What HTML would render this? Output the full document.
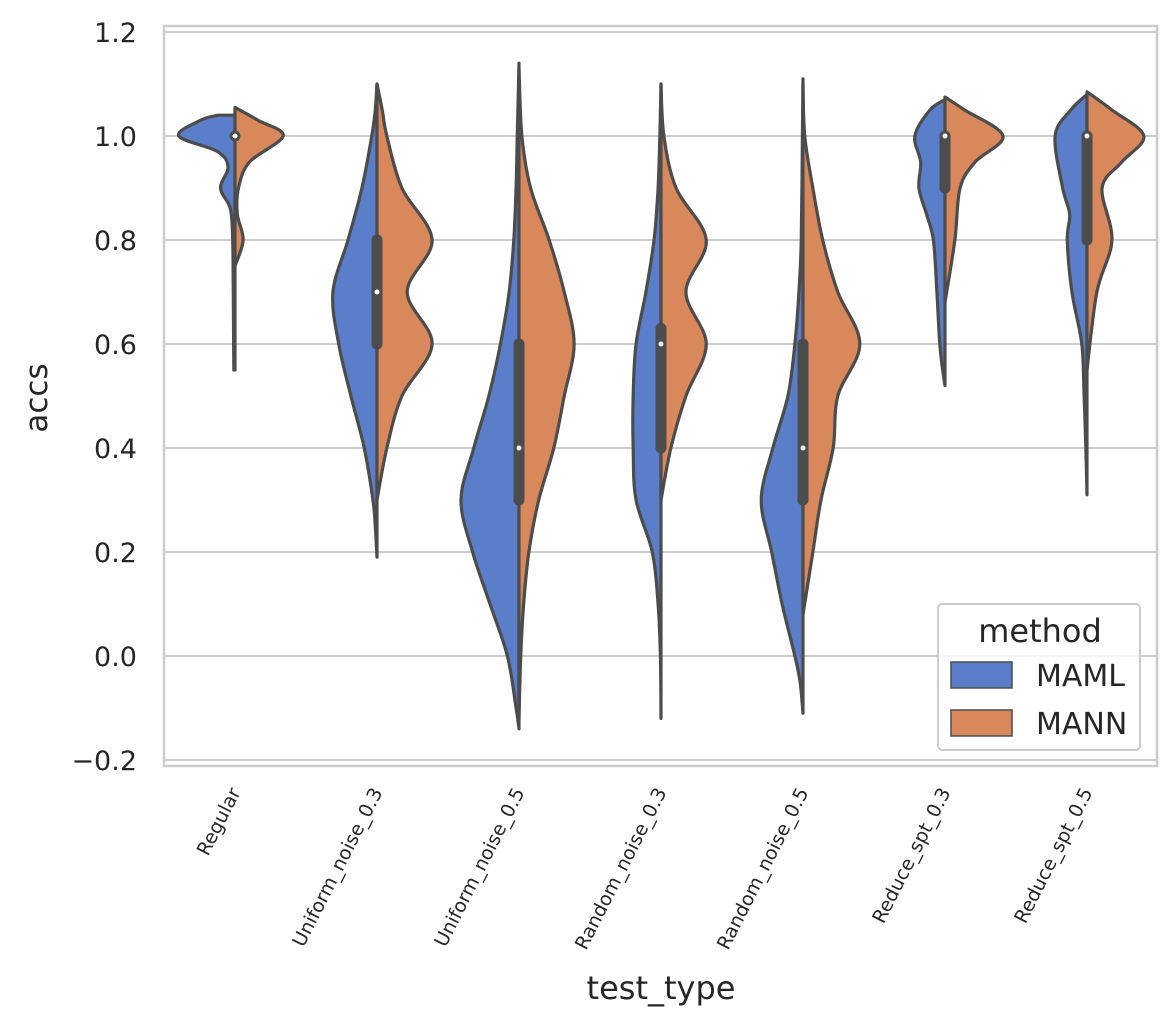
<!DOCTYPE html>
<html><head><meta charset="utf-8"><style>
body{margin:0;background:#fff;}
svg text{font-family:"DejaVu Sans","Liberation Sans",sans-serif;fill:#262626;}
</style></head><body>
<svg id="chart" width="1176" height="1028" xmlns="http://www.w3.org/2000/svg">
<g id="grid"></g>
<g id="violins"></g>
<rect x="164" y="26" width="993" height="740" fill="none" stroke="#cccccc" stroke-width="2.5"/>
<g id="yticks"></g>
<g id="xticks"></g>
<text transform="translate(47,398) rotate(-90)" text-anchor="middle" font-size="31">accs</text>
<text x="661" y="999" text-anchor="middle" font-size="32">test_type</text>
<g>
<rect x="938" y="604" width="202" height="146" rx="4" fill="#fff" fill-opacity="0.8" stroke="#cccccc" stroke-width="2"/>
<text x="1040" y="642" text-anchor="middle" font-size="32">method</text>
<rect x="951" y="662" width="61" height="26" fill="#5a7ec9" stroke="#4c4c4c" stroke-width="1.5"/>
<text x="1036" y="686" font-size="30">MAML</text>
<rect x="951" y="710" width="61" height="26" fill="#d8885a" stroke="#4c4c4c" stroke-width="1.5"/>
<text x="1036" y="734" font-size="30">MANN</text>
</g>
</svg>
<script>
const categories=["Regular","Uniform_noise_0.3","Uniform_noise_0.5","Random_noise_0.3","Random_noise_0.5","Reduce_spt_0.3","Reduce_spt_0.5"];
const yTicks=[-0.2,0,0.2,0.4,0.6,0.8,1.0,1.2];
// density profiles: [value, relative density 0..1]
const mamlDensity=[
 [[0.55,0.02],[0.7,0.03],[0.8,0.04],[0.86,0.08],[0.9,0.25],[0.94,0.12],[0.97,0.3],[1.0,0.97],[1.03,0.6],[1.04,0.3]],
 [[0.19,0.0],[0.25,0.03],[0.3,0.07],[0.4,0.22],[0.5,0.45],[0.6,0.66],[0.7,0.76],[0.8,0.5],[0.9,0.26],[1.0,0.09],[1.05,0.03],[1.1,0.0]],
 [[-0.14,0.0],[-0.1,0.05],[0,0.2],[0.1,0.5],[0.2,0.8],[0.3,1.0],[0.4,0.78],[0.5,0.52],[0.6,0.32],[0.7,0.17],[0.8,0.09],[0.9,0.05],[1.0,0.03],[1.14,0.0]],
 [[-0.12,0.0],[0.0,0.01],[0.1,0.05],[0.2,0.15],[0.3,0.43],[0.4,0.48],[0.5,0.48],[0.6,0.43],[0.7,0.26],[0.8,0.12],[0.9,0.05],[1.0,0.02],[1.1,0.0]],
 [[-0.11,0.0],[-0.05,0.05],[0,0.14],[0.1,0.36],[0.2,0.54],[0.3,0.72],[0.4,0.52],[0.5,0.26],[0.6,0.14],[0.7,0.07],[0.8,0.03],[1.0,0.01],[1.11,0.0]],
 [[0.52,0.0],[0.55,0.04],[0.6,0.09],[0.7,0.14],[0.8,0.2],[0.85,0.32],[0.9,0.45],[0.95,0.42],[1.0,0.52],[1.05,0.26],[1.07,0.0]],
 [[0.31,0.0],[0.4,0.02],[0.5,0.05],[0.6,0.09],[0.7,0.26],[0.8,0.34],[0.85,0.3],[0.9,0.42],[1.0,0.55],[1.05,0.28],[1.08,0.0]]
];
const mannDensity=[
 [[0.75,0.0],[0.8,0.14],[0.85,0.04],[0.9,0.06],[0.95,0.25],[1.0,0.83],[1.03,0.4],[1.055,0.0]],
 [[0.3,0.0],[0.4,0.17],[0.5,0.43],[0.6,0.95],[0.7,0.52],[0.8,0.95],[0.9,0.43],[1.0,0.17],[1.05,0.09],[1.1,0.0]],
 [[-0.12,0.0],[0.0,0.03],[0.1,0.08],[0.2,0.17],[0.3,0.34],[0.4,0.6],[0.5,0.78],[0.6,0.95],[0.7,0.78],[0.8,0.52],[0.9,0.2],[1.0,0.05],[1.13,0.0]],
 [[0.3,0.0],[0.4,0.17],[0.5,0.43],[0.6,0.78],[0.7,0.43],[0.8,0.78],[0.9,0.26],[1.0,0.05],[1.1,0.0]],
 [[0.08,0.0],[0.2,0.17],[0.3,0.31],[0.4,0.52],[0.5,0.6],[0.6,0.98],[0.7,0.6],[0.8,0.34],[0.9,0.17],[1.0,0.03],[1.1,0.0]],
 [[0.68,0.0],[0.8,0.17],[0.9,0.26],[0.95,0.52],[1.0,1.0],[1.05,0.34],[1.075,0.0]],
 [[0.55,0.0],[0.7,0.17],[0.8,0.43],[0.9,0.26],[0.95,0.6],[1.0,0.98],[1.05,0.43],[1.085,0.0]]
];
const boxQ1=[1.0,0.6,0.3,0.4,0.3,0.9,0.8];
const boxQ3=[1.0,0.8,0.6,0.63,0.6,1.0,1.0];
const boxMedian=[1.0,0.7,0.4,0.6,0.4,1.0,1.0];
const whiskerLow=[0.55,0.3,-0.1,0.0,0.0,0.7,0.5];
const whiskerHigh=[1.0,1.0,1.0,1.0,1.0,1.0,1.0];

const NS="http://www.w3.org/2000/svg";
const plotL=164,plotR=1157,step=142,maxW=58;
const y=v=>656-520*v;
const x=i=>235+i*step;
function mk(t,a,p){const e=document.createElementNS(NS,t);for(const k in a)e.setAttribute(k,a[k]);p.appendChild(e);return e;}
function smooth(pts){let d=`M${pts[0][0]},${pts[0][1]}`;for(let i=0;i<pts.length-1;i++){const p0=pts[i-1]||pts[i],p1=pts[i],p2=pts[i+1],p3=pts[i+2]||p2;
 const c1=[p1[0]+(p2[0]-p0[0])/6,p1[1]+(p2[1]-p0[1])/6],c2=[p2[0]-(p3[0]-p1[0])/6,p2[1]-(p3[1]-p1[1])/6];
 d+=`C${c1[0]},${c1[1]} ${c2[0]},${c2[1]} ${p2[0]},${p2[1]}`;}return d;}
const grid=document.getElementById('grid'),yt=document.getElementById('yticks'),xt=document.getElementById('xticks'),vg=document.getElementById('violins');
yTicks.forEach(v=>{
 const l=mk('line',{x1:plotL,x2:plotR,y1:y(v),y2:y(v),stroke:'#cccccc','stroke-width':2},grid);
 
 
 const t=mk('text',{x:137,y:y(v)+10,'text-anchor':'end','font-size':27},yt);
 t.textContent=(v<0?'\u2212':'')+Math.abs(v).toFixed(1);
 
 
});
categories.forEach((c,i)=>{
 const cx=x(i);
 const t=mk('text',{transform:`translate(${cx+6},792) rotate(-63)`,'text-anchor':'end','font-size':19},xt);
 t.textContent=c;
 
 
 [[mamlDensity[i],-1,'#5a7ec9','maml'],[mannDensity[i],1,'#d8885a','mann']].forEach(([dens,s,col,nm])=>{
  const pts=dens.map(([v,w])=>[cx+s*w*maxW,y(v)]);
  let d=smooth(pts);
  d+=`L${cx},${y(dens[dens.length-1][0])}L${cx},${y(dens[0][0])}Z`;
  const p=mk('path',{d,fill:col,stroke:'#4c4c4c','stroke-width':3.2,'stroke-linejoin':'round'},vg);
  
  
 });
 const w=mk('line',{x1:cx,x2:cx,y1:y(whiskerLow[i]),y2:y(whiskerHigh[i]),stroke:'#4c4c4c','stroke-width':3},vg);
 
 
 const b=mk('line',{x1:cx,x2:cx,y1:y(boxQ1[i]),y2:y(boxQ3[i]),stroke:'#4c4c4c','stroke-width':11,'stroke-linecap':'round'},vg);
 
 
 const m=mk('circle',{cx,cy:y(boxMedian[i]),r:3,fill:'#fff',stroke:'#4c4c4c','stroke-width':1},vg);
 
 
});
</script>
</body></html>
